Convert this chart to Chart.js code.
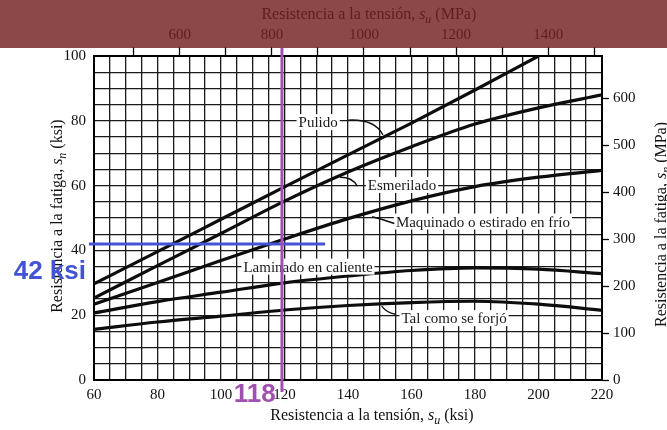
<!DOCTYPE html>
<html><head><meta charset="utf-8">
<script src="https://cdn.jsdelivr.net/npm/chart.js@4/dist/chart.umd.min.js"></script>
<style>html,body{margin:0;padding:0;background:#fff;}#wrap{width:667px;height:430px;}</style>
</head><body><div id="wrap"><canvas id="c" width="667" height="430"></canvas></div>
<script>
// ---- data (ksi) ----
const su = [60, 80, 100, 120, 140, 160, 180, 200, 220];
const pulido      = [29.7, 39.6, 49.6, 59.6, 69.5, 79.3, 89.5, 100.0];
const esmerilado  = [25.3, 35.3, 45.2, 55.2, 64.2, 72.0, 79.0, 84.0, 88.0];
const maquinado   = [23.4, 30.1, 36.9, 43.5, 49.8, 55.3, 59.7, 62.6, 64.7];
const laminado    = [20.7, 24.2, 27.1, 30.0, 32.1, 33.8, 34.6, 34.2, 32.8];
const forjado     = [15.6, 17.9, 19.7, 21.6, 23.0, 23.9, 24.3, 23.4, 21.5];
const KSI_TO_MPA = 6.895;
const xTickLabels = [60, 80, 100, 120, 140, 160, 180, 200, 220];
const yTickLabels = [0, 20, 40, 60, 80, 100];
const mpaTopTicks = [500, 600, 700, 800, 900, 1000, 1100, 1200, 1300, 1400, 1500];
const mpaTopLabels = [600, 800, 1000, 1200, 1400];
const mpaRightTicks = [0, 100, 200, 300, 400, 500, 600];
// curve labels: [text, x ksi, y ksi]
const curveLabels = [
  ["Pulido", 130.6, 79.6],
  ["Esmerilado", 157.0, 60.2],
  ["Maquinado o estirado en frío", 182.5, 48.9],
  ["Laminado en caliente", 127.4, 35.0],
  ["Tal como se forjó", 173.4, 19.1]
];
// leaders: start, control, end (ksi)
const leaders = [
  [[140.0, 80.2], [148.5, 80.6], [151.0, 75.6]],
  [[137.5, 62.6], [141.5, 62.6], [143.0, 59.8]],
  [[147.6, 50.4], [151.0, 49.6], [154.6, 48.3]],
  [[150.6, 22.8], [152.5, 20.5], [155.0, 20.3]]
];
// marked reading
const markSu = 119.2;
const markSn = 42;
const markLineX = [58.4, 132.8];
const markLabelSn = "42 ksi";
const markLabelSu = "118";

const serif = "'Liberation Serif', 'Times New Roman', serif";
const mk = arr => arr.map((v, i) => ({x: su[i], y: v}));
const ds = (label, arr) => ({label, data: mk(arr), borderColor: '#0d0d0d', borderWidth: 3.2,
  pointRadius: 0, fill: false, cubicInterpolationMode: 'monotone'});

function drawRich(ctx, parts, x, y, size, rot) {
  ctx.save();
  ctx.translate(x, y);
  if (rot) ctx.rotate(rot);
  ctx.textBaseline = 'middle';
  ctx.textAlign = 'left';
  const fontOf = p => (p.i ? 'italic ' : '') + (p.sub ? Math.round(size * 0.72) : size) + 'px ' + serif;
  let w = 0;
  parts.forEach(p => { ctx.font = fontOf(p); w += ctx.measureText(p.t).width; });
  let cx = -w / 2;
  parts.forEach(p => {
    ctx.font = fontOf(p);
    ctx.fillText(p.t, cx, p.sub ? size * 0.3 : 0);
    cx += ctx.measureText(p.t).width;
  });
  ctx.restore();
}

const annot = {
  id: 'annot',
  afterDatasetsDraw(chart) {
    const ctx = chart.ctx, xs = chart.scales.x, ys = chart.scales.y;
    ctx.save();
    ctx.font = '15px ' + serif;
    ctx.textAlign = 'center';
    ctx.textBaseline = 'middle';
    curveLabels.forEach(([t, x, y]) => {
      const px = xs.getPixelForValue(x), py = ys.getPixelForValue(y);
      const w = ctx.measureText(t).width;
      ctx.fillStyle = '#fff';
      ctx.fillRect(px - w / 2 - 2, py - 8, w + 4, 16);
      ctx.fillStyle = '#1a1a1a';
      ctx.fillText(t, px, py + 1);
    });
    ctx.strokeStyle = '#111';
    ctx.lineWidth = 1.4;
    leaders.forEach(([a, c, b]) => {
      ctx.beginPath();
      ctx.moveTo(xs.getPixelForValue(a[0]), ys.getPixelForValue(a[1]));
      ctx.quadraticCurveTo(xs.getPixelForValue(c[0]), ys.getPixelForValue(c[1]),
        xs.getPixelForValue(b[0]), ys.getPixelForValue(b[1]));
      ctx.stroke();
    });
    ctx.restore();
  },
  afterDraw(chart) {
    const ctx = chart.ctx, xs = chart.scales.x, ys = chart.scales.y, ca = chart.chartArea;
    ctx.save();
    ctx.fillStyle = '#111';
    // axis titles
    drawRich(ctx, [{t: 'Resistencia a la tensión, '}, {t: 's', i: 1}, {t: 'u', i: 1, sub: 1}, {t: ' (ksi)'}],
      ca.left + 0.547 * (ca.right - ca.left), ca.bottom + 36, 16, 0);
    drawRich(ctx, [{t: 'Resistencia a la fatiga, '}, {t: 's', i: 1}, {t: 'n', i: 1, sub: 1}, {t: ' (ksi)'}],
      ca.left - 36, ca.top + 0.494 * (ca.bottom - ca.top), 16, -Math.PI / 2);
    drawRich(ctx, [{t: 'Resistencia a la fatiga, '}, {t: 's', i: 1}, {t: 'n', i: 1, sub: 1}, {t: ' (MPa)'}],
      ca.right + 60, ca.top + 0.52 * (ca.bottom - ca.top), 16, -Math.PI / 2);
    drawRich(ctx, [{t: 'Resistencia a la tensión, '}, {t: 's', i: 1}, {t: 'u', i: 1, sub: 1}, {t: ' (MPa)'}],
      ca.left + 0.541 * (ca.right - ca.left), 15, 16, 0);
    // banner overlay
    ctx.fillStyle = 'rgba(115,32,32,0.82)';
    ctx.fillRect(0, 0, chart.width, 48);
    // marked reading
    ctx.lineCap = 'butt';
    ctx.strokeStyle = '#4452d6';
    ctx.lineWidth = 3;
    const yb = ys.getPixelForValue(markSn);
    ctx.beginPath();
    ctx.moveTo(xs.getPixelForValue(markLineX[0]), yb);
    ctx.lineTo(xs.getPixelForValue(markLineX[1]), yb);
    ctx.stroke();
    ctx.strokeStyle = '#a050ae';
    const xp = xs.getPixelForValue(markSu);
    ctx.beginPath();
    ctx.moveTo(xp, 48);
    ctx.lineTo(xp, ca.bottom + 12);
    ctx.stroke();
    ctx.font = "bold 26px 'Liberation Sans', Arial, sans-serif";
    ctx.textAlign = 'center';
    ctx.textBaseline = 'middle';
    ctx.fillStyle = '#4452d6';
    ctx.fillText(markLabelSn, xs.getPixelForValue(46.1), ys.getPixelForValue(33.3));
    ctx.fillStyle = '#a050ae';
    ctx.fillText(markLabelSu, xs.getPixelForValue(110.6), ys.getPixelForValue(-4.6));
    ctx.restore();
  }
};

const tickFont = {family: serif, size: 15};
new Chart(document.getElementById('c'), {
  type: 'line',
  data: {datasets: [ds('Pulido', pulido), ds('Esmerilado', esmerilado), ds('Maquinado', maquinado),
    ds('Laminado', laminado), ds('Forjado', forjado)]},
  options: {
    responsive: false, animation: false,
    layout: {padding: 0},
    plugins: {legend: {display: false}, tooltip: {enabled: false}},
    scales: {
      x: {type: 'linear', position: 'bottom', min: 60, max: 220,
        ticks: {stepSize: 5, autoSkip: false, maxRotation: 0, color: '#111', font: tickFont, padding: 6,
          callback: v => xTickLabels.includes(v) ? String(v) : ''},
        grid: {color: '#1a1a1a', lineWidth: 1.3, drawTicks: false},
        border: {color: '#000', width: 2},
        afterFit: s => { s.height = 50; }},
      y: {type: 'linear', position: 'left', min: 0, max: 100,
        ticks: {stepSize: 5, autoSkip: false, color: '#111', font: tickFont, padding: 8,
          callback: v => yTickLabels.includes(v) ? String(v) : ''},
        grid: {color: '#1a1a1a', lineWidth: 1.3, drawTicks: false},
        border: {color: '#000', width: 2},
        afterFit: s => { s.width = 94; }},
      x2: {type: 'linear', position: 'top', min: 60 * KSI_TO_MPA, max: 220 * KSI_TO_MPA,
        afterBuildTicks: s => { s.ticks = mpaTopTicks.map(v => ({value: v})); },
        ticks: {autoSkip: false, maxRotation: 0, color: '#111', font: tickFont, padding: 3,
          callback: v => mpaTopLabels.includes(v) ? String(v) : ''},
        grid: {drawOnChartArea: false, drawTicks: true, tickLength: 9, tickColor: '#000', tickWidth: 1.3},
        border: {color: '#000', width: 2},
        afterFit: s => { s.height = 56; }},
      y2: {type: 'linear', position: 'right', min: 0, max: 100 * KSI_TO_MPA,
        afterBuildTicks: s => { s.ticks = mpaRightTicks.map(v => ({value: v})); },
        ticks: {autoSkip: false, color: '#111', font: tickFont, padding: 4,
          callback: v => String(v)},
        grid: {drawOnChartArea: false, drawTicks: true, tickLength: 7, tickColor: '#000', tickWidth: 1.3},
        border: {color: '#000', width: 2},
        afterFit: s => { s.width = 65; }}
    }
  },
  plugins: [annot]
});
</script></body></html>
